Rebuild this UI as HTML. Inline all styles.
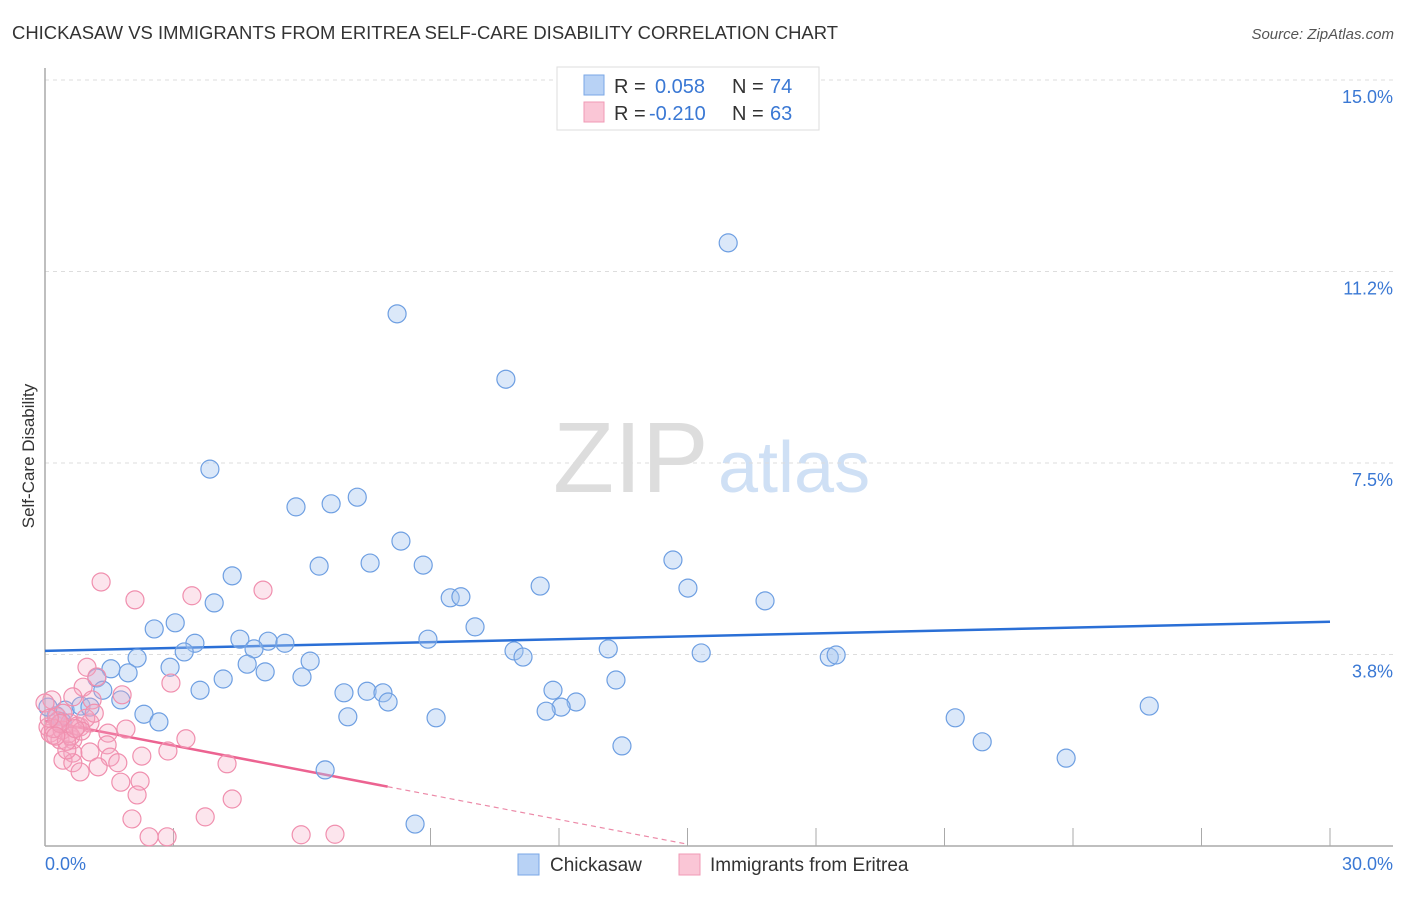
<!DOCTYPE html>
<html><head><meta charset="utf-8">
<style>
body{margin:0;background:#fff;font-family:"Liberation Sans",sans-serif;}
svg text{font-family:"Liberation Sans",sans-serif;}
</style></head>
<body>
<svg id="chart" width="1406" height="892" viewBox="0 0 1406 892" xmlns="http://www.w3.org/2000/svg">
<text x="12" y="39" font-size="18" fill="#333" textLength="826" lengthAdjust="spacingAndGlyphs">CHICKASAW VS IMMIGRANTS FROM ERITREA SELF-CARE DISABILITY CORRELATION CHART</text>
<text x="1394" y="39" font-size="15" fill="#555" font-style="italic" text-anchor="end">Source: ZipAtlas.com</text>
<text transform="translate(34,456) rotate(-90)" font-size="17" fill="#333" text-anchor="middle">Self-Care Disability</text>
<g>
<text x="553" y="492" font-size="100" fill="#ddd" font-family="Liberation Serif, serif">ZIP</text>
<text x="718" y="492" font-size="72" fill="#cfe0f5">atlas</text>
</g>
<g id="grid"></g>
<g id="axes"></g>
<g id="trends"></g>
<g id="points"></g>
<g>
<rect x="557" y="67" width="262" height="63" fill="#fff" stroke="#ddd"/>
<rect x="584" y="75" width="20" height="20" fill="#b8d2f5" stroke="#7aa7e6"/>
<text x="614" y="93" font-size="20" fill="#333">R =</text>
<text x="655" y="93" font-size="20" fill="#3a78d4">0.058</text>
<text x="732" y="93" font-size="20" fill="#333">N =</text>
<text x="770" y="93" font-size="20" fill="#3a78d4">74</text>
<rect x="584" y="102" width="20" height="20" fill="#fac6d6" stroke="#f09ab5"/>
<text x="614" y="120" font-size="20" fill="#333">R =</text>
<text x="649" y="120" font-size="20" fill="#3a78d4">-0.210</text>
<text x="732" y="120" font-size="20" fill="#333">N =</text>
<text x="770" y="120" font-size="20" fill="#3a78d4">63</text>
</g>
<g>
<rect x="518" y="854" width="21" height="21" fill="#b8d2f5" stroke="#7aa7e6"/>
<text x="550" y="871" font-size="19" fill="#333">Chickasaw</text>
<rect x="679" y="854" width="21" height="21" fill="#fac6d6" stroke="#f09ab5"/>
<text x="710" y="871" font-size="19" fill="#333">Immigrants from Eritrea</text>
</g>
</svg>
<script>
const yTicks=[3.75,7.5,11.25,15];
const yTickLabels=["3.8%","7.5%","11.2%","15.0%"];
const xTicks=[3,9,12,15,18,21,24,27,30];
const xEndLabels=["0.0%","30.0%"];
const blueX=[15.95,8.22,10.76,3.85,5.86,6.68,7.29,8.31,6.40,7.59,8.83,4.37,3.95,9.46,9.71,11.56,14.66,15.01,16.81,2.55,3.04,10.04,3.50,3.25,4.55,5.21,5.60,4.88,2.15,1.54,2.92,4.72,6.19,5.14,1.94,1.21,6.00,4.16,3.62,1.35,1.77,6.98,7.52,7.89,8.01,8.94,10.95,11.16,13.15,15.32,18.31,18.47,11.86,13.33,12.40,12.05,11.70,7.07,9.13,21.25,25.78,21.88,23.84,13.47,2.31,2.66,6.54,8.64,0.47,0.84,1.05,0.26,0.07,0.40];
const blueY=[11.81,10.42,9.14,7.38,6.64,6.70,6.83,5.97,5.48,5.54,5.50,5.29,4.76,4.86,4.88,5.09,5.60,5.05,4.80,4.25,4.37,4.29,3.97,3.80,4.05,4.01,3.97,3.86,3.68,3.47,3.50,3.56,3.62,3.41,3.39,3.29,3.31,3.27,3.05,3.05,2.86,3.00,3.03,3.00,2.82,4.05,3.82,3.70,3.86,3.78,3.70,3.74,3.05,3.25,2.82,2.72,2.64,2.53,2.51,2.51,2.74,2.04,1.72,1.96,2.58,2.43,1.49,0.43,2.66,2.74,2.72,2.55,2.72,2.43];
const pinkX=[1.31,2.10,3.43,5.09,0.98,1.21,2.94,1.80,0.89,0.65,1.10,0.16,0.28,0.42,0.58,0.82,0.12,0.35,0.65,1.05,1.47,1.89,3.29,2.87,2.26,1.45,1.52,1.05,0.65,0.42,0.65,0.82,1.24,1.70,4.25,1.77,2.22,2.15,4.37,2.03,3.74,2.43,2.85,5.98,6.77,0.0,0.51,0.07,0.19,0.40,0.30,0.55,0.75,0.95,0.20,0.60,1.15,0.35,0.85,0.10,0.50,0.70,0.25];
const pinkY=[5.17,4.82,4.90,5.01,3.50,3.31,3.19,2.96,3.11,2.92,2.86,2.86,2.53,2.60,2.41,2.33,2.21,2.08,2.08,2.41,2.21,2.29,2.10,1.86,1.76,1.98,1.74,1.84,1.82,1.68,1.63,1.45,1.55,1.63,1.61,1.25,1.27,1.00,0.92,0.53,0.57,0.18,0.18,0.22,0.23,2.80,1.88,2.33,2.17,2.27,2.45,2.20,2.35,2.50,2.30,2.15,2.60,2.40,2.25,2.50,2.05,2.30,2.15];
const blueTrend=[3.82,4.39];
const pinkTrend=[2.45,-0.161];
const pinkSolidEnd=8.0, pinkDashEnd=15.0;

const X0=45,X1=1330,Y0=846,YPX=51.07;
const xs=v=>X0+v*(X1-X0)/30;
const ys=v=>Y0-v*YPX;
const NS="http://www.w3.org/2000/svg";
function mk(tag,attrs,parent){const e=document.createElementNS(NS,tag);for(const k in attrs)e.setAttribute(k,attrs[k]);document.getElementById(parent).appendChild(e);return e;}

yTicks.forEach((t,i)=>{
  const l=mk('line',{x1:X0,x2:1393,y1:ys(t),y2:ys(t),stroke:'#ddd','stroke-dasharray':'4,4'},'grid');
  
  
  const tx=mk('text',{x:1393,y:ys(t)+23,'font-size':18,fill:'#3a78d4','text-anchor':'end'},'grid');
  tx.textContent=yTickLabels[i];
  
  
});
const xa=mk('line',{x1:X0,x2:1393,y1:Y0,y2:Y0,stroke:'#aaa','stroke-width':1.5},'axes');


const ya=mk('line',{x1:X0,x2:X0,y1:68,y2:Y0,stroke:'#aaa','stroke-width':1.5},'axes');


xTicks.forEach(t=>{
  const l=mk('line',{x1:xs(t),x2:xs(t),y1:828,y2:Y0,stroke:'#aaa'},'axes');
  
  
});
const xl0=mk('text',{x:45,y:870,'font-size':18,fill:'#3a78d4'},'axes');xl0.textContent=xEndLabels[0];


const xl1=mk('text',{x:1393,y:870,'font-size':18,fill:'#3a78d4','text-anchor':'end'},'axes');xl1.textContent=xEndLabels[1];



blueX.forEach((x,i)=>{
  const c=mk('circle',{cx:xs(x),cy:ys(blueY[i]),r:9,fill:'rgba(165,198,240,0.4)',stroke:'#6e9fe2','stroke-width':1.2},'points');
  
  
});
pinkX.forEach((x,i)=>{
  const c=mk('circle',{cx:xs(x),cy:ys(pinkY[i]),r:9,fill:'rgba(245,170,195,0.3)',stroke:'#f08fae','stroke-width':1.2},'points');
  
  
});
const bt=mk('line',{x1:xs(0),y1:ys(blueTrend[0]),x2:xs(30),y2:ys(blueTrend[1]),stroke:'#2a6fd6','stroke-width':2.5},'trends');


const pf=x=>pinkTrend[0]+pinkTrend[1]*x;
const pt=mk('line',{x1:xs(0),y1:ys(pf(0)),x2:xs(pinkSolidEnd),y2:ys(pf(pinkSolidEnd)),stroke:'#ec6391','stroke-width':2.5},'trends');


const pd=mk('line',{x1:xs(pinkSolidEnd),y1:ys(pf(pinkSolidEnd)),x2:xs(pinkDashEnd),y2:ys(pf(pinkDashEnd)),stroke:'#ec8aa8','stroke-width':1.2,'stroke-dasharray':'5,4'},'trends');


</script>
</body></html>
